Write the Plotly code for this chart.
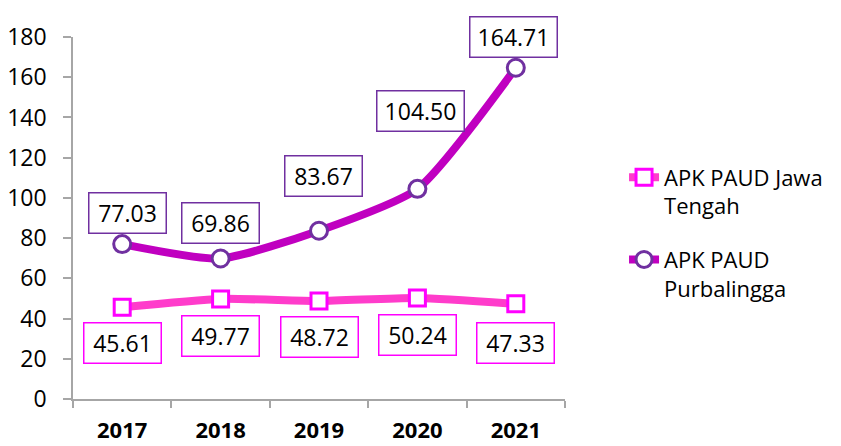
import plotly.graph_objects as go

years = ["2017", "2018", "2019", "2020", "2021"]
jawa_tengah = [45.61, 49.77, 48.72, 50.24, 47.33]
purbalingga = [77.03, 69.86, 83.67, 104.50, 164.71]
y_ticks = [0, 20, 40, 60, 80, 100, 120, 140, 160, 180]

# label offsets in pixels (style only)
jt_shift = [(0, -36), (0, -37), (0, -36), (0, -37), (0, -39)]
pb_shift = [(5, 31), (0, 36), (4, 55), (3, 78), (-2, 31)]

FONT = "Open Sans"
PINK_LINE = "#FF3CCB"
PINK_MARK = "#FF00FF"
PURP_LINE = "#C000C0"
PURP_MARK = "#7030A0"

fig = go.Figure()
fig.add_trace(go.Scatter(
    x=years, y=jawa_tengah, name="APK PAUD Jawa<br>Tengah", legendgroup="jt",
    mode="lines+markers", line=dict(color=PINK_LINE, width=8, shape="spline", smoothing=0.6),
    marker=dict(symbol="square", size=16, color="white", line=dict(color=PINK_MARK, width=3)),
))
fig.add_trace(go.Scatter(
    x=years, y=purbalingga, name="APK PAUD<br>Purbalingga", legendgroup="pb",
    mode="lines+markers", line=dict(color=PURP_LINE, width=8, shape="spline", smoothing=0.6),
    marker=dict(symbol="circle", size=17, color="white", line=dict(color=PURP_MARK, width=3)),
))

for i, (v, (dx, dy)) in enumerate(zip(jawa_tengah, jt_shift)):
    fig.add_annotation(x=i, y=v, xref="x", yref="y", text="%.2f" % v, showarrow=False,
                       xshift=dx, yshift=dy, width=68, height=31,
                       font=dict(size=23, color="black"),
                       bordercolor=PINK_MARK, borderwidth=1.5, borderpad=4, bgcolor="white")
for i, (v, (dx, dy)) in enumerate(zip(purbalingga, pb_shift)):
    fig.add_annotation(x=i, y=v, xref="x", yref="y", text="%.2f" % v, showarrow=False,
                       xshift=dx, yshift=dy, width=78 if v >= 100 else 68, height=31,
                       font=dict(size=23, color="black"),
                       bordercolor=PURP_MARK, borderwidth=1.5, borderpad=4, bgcolor="white")

fig.update_layout(
    width=833, height=438,
    margin=dict(l=65, r=276, t=29, b=47, autoexpand=False),
    paper_bgcolor="white", plot_bgcolor="white",
    font=dict(family=FONT, color="black"),
    showlegend=True,
    legend=dict(x=1.12, y=0.67, xanchor="left", yanchor="top", valign="top",
                font=dict(family=FONT, size=22, color="black"),
                tracegroupgap=22, bgcolor="rgba(0,0,0,0)"),
)
fig.update_xaxes(
    type="category", range=[-0.5, 4.5], showline=True, linecolor="#A6A6A6", linewidth=1.5,
    ticks="outside", tickson="boundaries", ticklen=7, tickcolor="#A6A6A6", tickwidth=1.5,
    showgrid=False, zeroline=False, automargin=False,
    tickfont=dict(family=FONT, size=22, color="black", weight="bold"),
    ticklabelstandoff=11,
)
fig.update_yaxes(
    range=[0, 180], tickvals=y_ticks, showline=True, linecolor="#A6A6A6", linewidth=1.5,
    ticks="outside", ticklen=8, tickcolor="#A6A6A6", tickwidth=1.5,
    showgrid=False, zeroline=False, automargin=False,
    tickfont=dict(family=FONT, size=23, color="black"),
    ticklabelstandoff=12,
)

fig.write_html("out.html")
